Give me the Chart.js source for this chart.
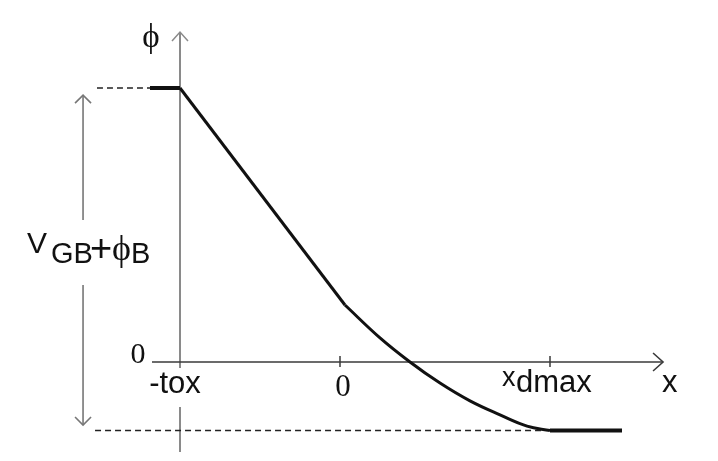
<!DOCTYPE html>
<html>
<head>
<meta charset="utf-8">
<script src="https://cdn.jsdelivr.net/npm/chart.js@4/dist/chart.umd.min.js"></script>
<style>
  html, body { margin: 0; padding: 0; background: #fff; }
  #wrap { width: 718px; height: 461px; }
</style>
</head>
<body>
<div id="wrap"><canvas id="c" width="718" height="461"></canvas></div>
<script>
// ---- data (arbitrary units: -tox = -1, oxide/silicon interface = 0) ----
const xTickValues = [-1, 0, 1.3125];
const xTickLabels = ['-tox', '0', 'xdmax'];
const yZero = 0;
const phiTop = 1.0;        // V_GB + phi_B level
const phiBottom = -0.25;   // bottom level

// straight part through the oxide
const oxideX = [-1.1875, -1, 0.031];
const oxideY = [1, 1, 0.208];

// curved part in the depletion region
const siliconX = [0.031, 0.25, 0.4375, 0.625, 0.8125, 1.0, 1.169, 1.3125];
const siliconY = [0.208, 0.088, 0.0, -0.077, -0.142, -0.193, -0.234, -0.25];

// flat part beyond the depletion edge
const bulkX = [1.3125, 1.7625];
const bulkY = [-0.25, -0.25];

// dashed reference lines
const topDashX = [-1.519, -1.1875];
const bottomDashX = [-1.531, 1.281];

const pts = (xs, ys) => xs.map((x, i) => ({ x: x, y: ys[i] }));

const SANS = '"Liberation Sans", Arial, sans-serif';
const SERIF = '"Liberation Serif", "DejaVu Serif", serif';

function chevron(ctx, tx, ty, dir, len, half) {
  ctx.beginPath();
  if (dir === 'up') { ctx.moveTo(tx - half, ty + len); ctx.lineTo(tx, ty); ctx.lineTo(tx + half, ty + len); }
  if (dir === 'down') { ctx.moveTo(tx - half, ty - len); ctx.lineTo(tx, ty); ctx.lineTo(tx + half, ty - len); }
  if (dir === 'right') { ctx.moveTo(tx - len, ty - half); ctx.lineTo(tx, ty); ctx.lineTo(tx - len, ty + half); }
  ctx.stroke();
}

const decor = {
  id: 'decor',
  beforeDatasetsDraw(chart) {
    const ctx = chart.ctx;
    const xs = chart.scales.x, ys = chart.scales.y;
    const X = v => xs.getPixelForValue(v);
    const Y = v => ys.getPixelForValue(v);
    ctx.save();
    ctx.lineCap = 'butt';

    // vertical (phi) axis at -tox
    const ax = X(-1);
    ctx.strokeStyle = '#8a8a8a';
    ctx.lineWidth = 2;
    ctx.beginPath();
    ctx.moveTo(ax, Y(1.204)); ctx.lineTo(ax, Y(-0.022));
    ctx.moveTo(ax, Y(-0.164)); ctx.lineTo(ax, Y(-0.328));
    ctx.stroke();
    ctx.lineWidth = 1.5;
    chevron(ctx, ax, Y(1.204), 'up', 9, 8);

    // horizontal x axis
    ctx.strokeStyle = '#3a3a3a';
    ctx.lineWidth = 1.6;
    ctx.beginPath();
    ctx.moveTo(X(-1.175), Y(yZero)); ctx.lineTo(X(2.019), Y(yZero));
    ctx.stroke();
    chevron(ctx, X(2.019), Y(yZero), 'right', 10, 9);

    // tick marks
    ctx.lineWidth = 1.5;
    xTickValues.slice(1).forEach(v => {
      ctx.beginPath();
      ctx.moveTo(X(v), Y(yZero) - 6); ctx.lineTo(X(v), Y(yZero) + 5);
      ctx.stroke();
    });

    // double arrow for V_GB + phi_B
    const dx = X(-1.606);
    ctx.strokeStyle = '#777';
    ctx.lineWidth = 1.6;
    ctx.beginPath();
    ctx.moveTo(dx, Y(0.974)); ctx.lineTo(dx, 220);
    ctx.moveTo(dx, 285); ctx.lineTo(dx, Y(-0.23));
    ctx.stroke();
    chevron(ctx, dx, Y(0.974), 'up', 8, 8);
    chevron(ctx, dx, Y(-0.23), 'down', 8, 8);

    // texts
    ctx.fillStyle = '#111';
    ctx.textBaseline = 'alphabetic';
    // phi axis title
    ctx.font = '33px ' + SERIF;
    ctx.textAlign = 'center';
    ctx.fillText('ϕ', 151, 47);
    // y zero
    ctx.font = '30px ' + SERIF;
    ctx.fillText('0', 138, 363);
    // x tick labels
    ctx.font = '31px ' + SANS;
    ctx.fillText(xTickLabels[0], X(xTickValues[0]) - 5, 393);
    ctx.font = '31px ' + SERIF;
    ctx.fillText(xTickLabels[1], X(xTickValues[1]) + 3, 396);
    // xdmax: raised x, then dmax
    ctx.textAlign = 'left';
    ctx.font = '27px ' + SANS;
    ctx.fillText('x', 502, 386);
    ctx.font = '31px ' + SANS;
    ctx.fillText('dmax', 516, 392);
    // x axis title
    ctx.fillText('x', 662, 392);

    // V_GB + phi_B
    ctx.font = '30px ' + SANS;
    ctx.fillText('V', 27, 253);
    ctx.font = '29px ' + SANS;
    ctx.fillText('GB', 51, 263);
    ctx.font = '38px ' + SANS;
    ctx.fillText('+', 90, 261);
    ctx.font = '36px ' + SERIF;
    ctx.fillText('ϕ', 112, 260);
    ctx.font = '29px ' + SANS;
    ctx.fillText('B', 131, 263);

    ctx.restore();
  }
};

new Chart(document.getElementById('c'), {
  type: 'scatter',
  data: {
    datasets: [
      {
        data: pts(topDashX, [phiTop, phiTop]),
        showLine: true, borderColor: '#222', borderWidth: 1.3, borderDash: [6, 4],
        pointRadius: 0, tension: 0
      },
      {
        data: pts(bottomDashX, [phiBottom, phiBottom]),
        showLine: true, borderColor: '#222', borderWidth: 1.3, borderDash: [6, 4],
        pointRadius: 0, tension: 0
      },
      {
        data: pts(oxideX, oxideY),
        showLine: true, borderColor: '#111', borderWidth: 3,
        segment: { borderWidth: c => (c.p0.parsed.y === c.p1.parsed.y ? 4 : 3) },
        pointRadius: 0, tension: 0, borderJoinStyle: 'round'
      },
      {
        data: pts(siliconX, siliconY),
        showLine: true, borderColor: '#111', borderWidth: 3,
        pointRadius: 0, tension: 0.4, borderJoinStyle: 'round'
      },
      {
        data: pts(bulkX, bulkY),
        showLine: true, borderColor: '#111', borderWidth: 4,
        pointRadius: 0, tension: 0
      }
    ]
  },
  options: {
    responsive: false,
    animation: false,
    layout: { padding: 0 },
    plugins: { legend: { display: false }, tooltip: { enabled: false } },
    scales: {
      x: { type: 'linear', display: false, min: -2.125, max: 2.3625 },
      y: { type: 'linear', display: false, min: -0.3613, max: 1.3212 }
    }
  },
  plugins: [decor]
});
</script>
</body>
</html>
